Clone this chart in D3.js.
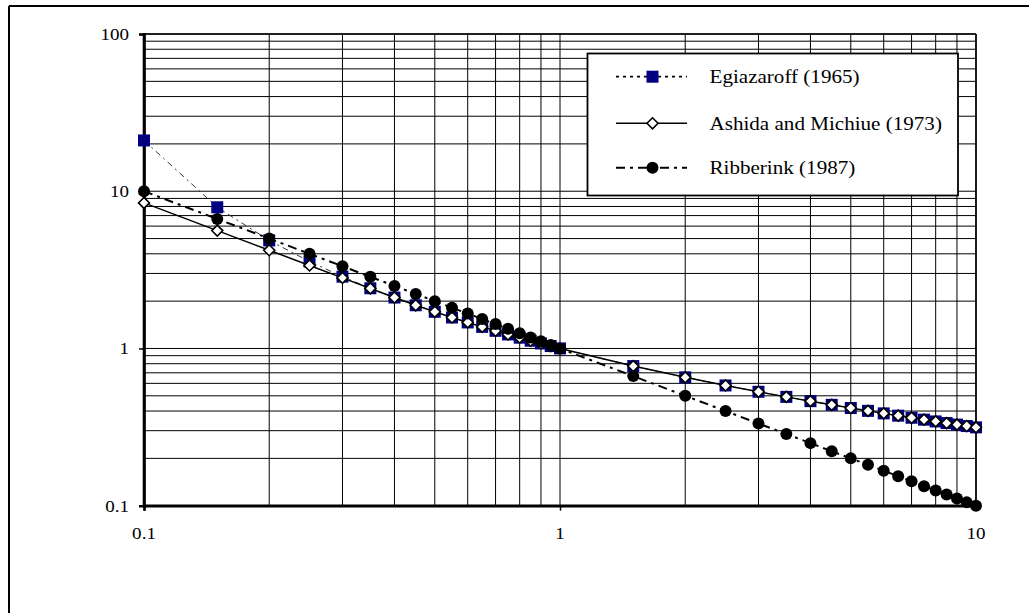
<!DOCTYPE html>
<html>
<head>
<meta charset="utf-8">
<script src="https://cdn.jsdelivr.net/npm/d3@7"></script>
<style>
  html, body { margin: 0; padding: 0; background: #fff; overflow: hidden; }
  svg { display: block; }
</style>
</head>
<body>
<svg id="chart" width="1029" height="613"></svg>
<script>
// ---- data ----
const xValues = [0.1,0.15,0.2,0.25,0.3,0.35,0.4,0.45,0.5,0.55,0.6,0.65,0.7,0.75,0.8,0.85,0.9,0.95,1,
                 1.5,2,2.5,3,3.5,4,4.5,5,5.5,6,6.5,7,7.5,8,8.5,9,9.5,10];
const egiazaroff = [21.04,7.904,4.865,3.571,2.862,2.415,2.108,1.883,1.711,1.574,1.464,1.372,1.295,1.228,1.171,1.120,1.076,1.036,1,
                    0.7726,0.6552,0.5817,0.5304,0.4921,0.4623,0.4381,0.4181,0.4011,0.3865,0.3738,0.3625,0.3525,0.3435,0.3354,0.3279,0.3211,0.3149];
const ashida = [8.43,5.62,4.215,3.372,2.81,2.409,2.108,1.883,1.711,1.574,1.464,1.372,1.295,1.228,1.171,1.120,1.076,1.036,1,
                0.7726,0.6552,0.5817,0.5304,0.4921,0.4623,0.4381,0.4181,0.4011,0.3865,0.3738,0.3625,0.3525,0.3435,0.3354,0.3279,0.3211,0.3149];
const ribberink = [10,6.667,5,4,3.333,2.857,2.5,2.222,2,1.818,1.667,1.538,1.429,1.333,1.25,1.176,1.111,1.053,1,
                   0.667,0.5,0.4,0.333,0.286,0.25,0.222,0.2,0.182,0.167,0.154,0.143,0.133,0.125,0.118,0.111,0.105,0.1];
const seriesNames = ["Egiazaroff (1965)", "Ashida and Michiue (1973)", "Ribberink (1987)"];
const xTickLabels = ["0.1", "1", "10"];
const yTickLabels = ["0.1", "1", "10", "100"];

// ---- layout ----
const FONT = "Liberation Serif";
const svg = d3.select("#chart");
const L = 144, R = 976, T = 34, B = 505.7;
const x = d3.scaleLog().domain([0.1, 10]).range([L, R]);
const y = d3.scaleLog().domain([0.1, 100]).range([B, T]);

svg.append("rect").attr("width", 1029).attr("height", 613).attr("fill", "#fff");
// outer chart border (left and top edges visible; the rest lies past the picture)
svg.append("line").attr("x1", 9).attr("x2", 1029).attr("y1", 6).attr("y2", 6).attr("stroke", "#000").attr("stroke-width", 1.8);
svg.append("line").attr("x1", 9).attr("x2", 9).attr("y1", 6).attr("y2", 613).attr("stroke", "#000").attr("stroke-width", 2);

// grid
const gridX = [];
[0.1, 1].forEach(d => { for (let k = 1; k <= 9; k++) gridX.push(d * k); });
gridX.push(10);
const gridY = [];
[0.1, 1, 10].forEach(d => { for (let k = 1; k <= 9; k++) gridY.push(d * k); });
gridY.push(100);

const grid = svg.append("g");
grid.selectAll("line.v").data(gridX).join("line")
  .attr("x1", d => x(d)).attr("x2", d => x(d)).attr("y1", T).attr("y2", B)
  .attr("stroke", "#000").attr("stroke-width", 1);
grid.selectAll("line.h").data(gridY).join("line")
  .attr("y1", d => y(d)).attr("y2", d => y(d)).attr("x1", L).attr("x2", R)
  .attr("stroke", "#000").attr("stroke-width", 1);

// plot frame
svg.append("line").attr("x1", L).attr("x2", R).attr("y1", T).attr("y2", T).attr("stroke", "#000").attr("stroke-width", 1.6);
svg.append("line").attr("x1", R).attr("x2", R).attr("y1", T).attr("y2", B).attr("stroke", "#000").attr("stroke-width", 1.6);

// axes
const yAxis = d3.axisLeft(y).tickValues(yTickLabels.map(Number)).tickSize(5).tickFormat("");
const xAxis = d3.axisBottom(x).tickValues(xTickLabels.map(Number)).tickSize(5).tickFormat("");
const ga = svg.append("g").attr("transform", `translate(${L},0)`).call(yAxis);
const gb = svg.append("g").attr("transform", `translate(0,${B})`).call(xAxis);
[ga, gb].forEach(g => {
  g.select(".domain").attr("stroke", "#000").attr("stroke-width", 2.6);
  g.selectAll(".tick line").attr("stroke", "#000").attr("stroke-width", 1.5);
});
svg.append("line").attr("x1", L).attr("x2", L).attr("y1", T - 1).attr("y2", B + 1).attr("stroke", "#000").attr("stroke-width", 2.6);
svg.append("line").attr("x1", L - 1).attr("x2", R + 1).attr("y1", B).attr("y2", B).attr("stroke", "#000").attr("stroke-width", 2.6);

function stext(g, str, tx, ty, size, sx, anchor) {
  return g.append("text").attr("transform", `translate(${tx},${ty}) scale(${sx},1)`)
    .attr("font-family", FONT).attr("fill", "#000")
    .attr("font-size", size).attr("text-anchor", anchor).text(str);
}
yTickLabels.forEach(t => stext(svg, t, 129, y(+t) + 5.8, 17, 1.12, "end"));
xTickLabels.forEach(t => stext(svg, t, x(+t), 539, 17, 1.12, "middle"));

// series
const styles = [
  { data: egiazaroff, stroke: "#333", width: 1, dash: "6,4,2,4", marker: "square" },
  { data: ashida, stroke: "#000", width: 1.5, dash: null, marker: "diamond" },
  { data: ribberink, stroke: "#000", width: 2, dash: "9,5,3,5", marker: "circle" }
];
const line = d3.line().x(d => x(d[0])).y(d => y(d[1]));

function drawMarker(g, type, cx, cy) {
  if (type === "square") {
    g.append("rect").attr("x", cx - 6).attr("y", cy - 6).attr("width", 12).attr("height", 12)
      .attr("fill", "#000080");
  } else if (type === "diamond") {
    const r = 5.5;
    g.append("path").attr("d", `M${cx},${cy - r}L${cx + r},${cy}L${cx},${cy + r}L${cx - r},${cy}Z`)
      .attr("fill", "#fff").attr("stroke", "#000").attr("stroke-width", 1.6);
  } else {
    g.append("circle").attr("cx", cx).attr("cy", cy).attr("r", 6).attr("fill", "#000");
  }
}

styles.forEach(s => {
  const pts = xValues.map((xv, i) => [xv, s.data[i]]);
  const g = svg.append("g");
  g.append("path").attr("d", line(pts)).attr("fill", "none")
    .attr("stroke", s.stroke).attr("stroke-width", s.width)
    .attr("stroke-dasharray", s.dash);
  pts.forEach(p => drawMarker(g, s.marker, x(p[0]), y(p[1])));
});

// legend
const lg = svg.append("g");
lg.append("rect").attr("x", 587.5).attr("y", 53.5).attr("width", 370.5).attr("height", 142)
  .attr("fill", "#fff").attr("stroke", "#000").attr("stroke-width", 1.8);
const rowsY = [76.7, 123.3, 167.7];
const legendDash = ["3,4", null, "9,5,3,5"];
styles.forEach((s, i) => {
  const yy = rowsY[i];
  lg.append("line").attr("x1", 616).attr("x2", 687).attr("y1", yy).attr("y2", yy)
    .attr("stroke", "#000").attr("stroke-width", i === 0 ? 1.8 : s.width)
    .attr("stroke-dasharray", legendDash[i]);
  drawMarker(lg, s.marker, 652.5, yy);
  stext(lg, seriesNames[i], 709.5, yy + 6.5, 18.5, 1.14, "start");
});
</script>
</body>
</html>
